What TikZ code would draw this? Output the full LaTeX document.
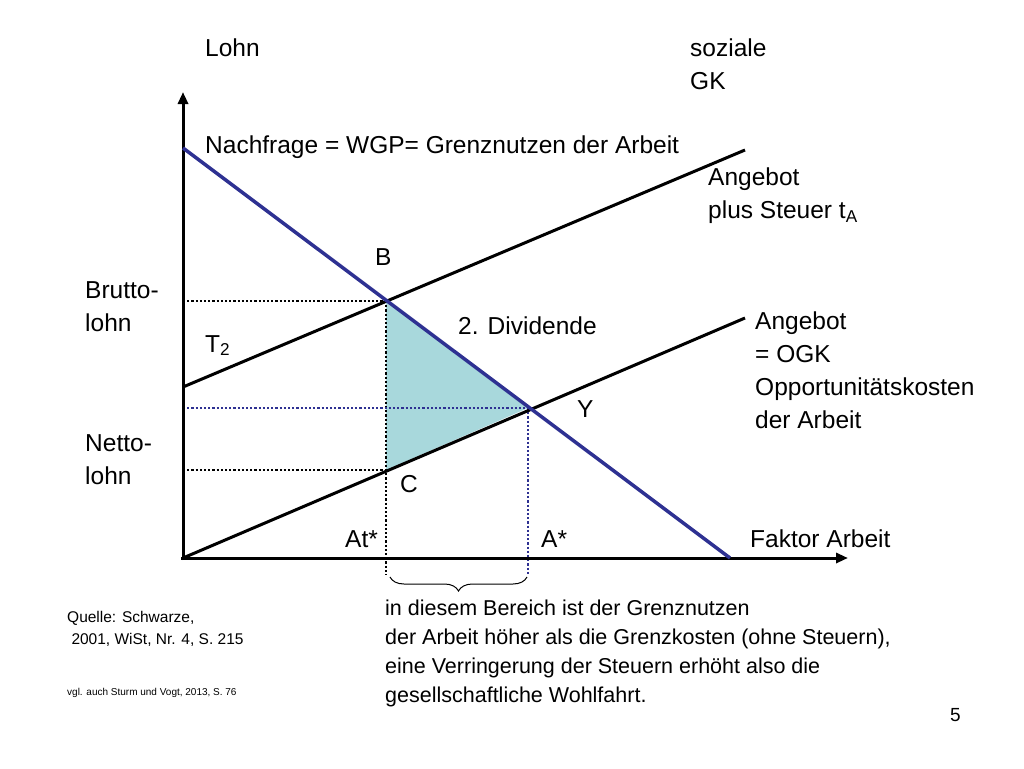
\documentclass[tikz,border=0pt]{standalone}
\usepackage{fontspec}
\setmainfont{Liberation Sans}
\usetikzlibrary{decorations.pathreplacing,arrows.meta}
\definecolor{dblue}{RGB}{46,49,146}
\definecolor{fillc}{RGB}{168,216,220}
\begin{document}
\begin{tikzpicture}[x=1pt,y=-1pt,
  lbl/.style={anchor=north west,inner sep=0pt,font=\fontsize{24.5}{33}\selectfont,align=left},
  dots/.style={line width=2.2pt,dotted},
  curve/.style={line width=3pt}]
\useasboundingbox (0,0) rectangle (1024,768);
\coordinate (O) at (183,558);
\coordinate (B) at (386,301);
\coordinate (Y) at (528,408);
\coordinate (C) at (386,470);
\fill[fillc] (B) -- (Y) -- (C) -- cycle;
\draw[dots] (183,301) -- (B);
\draw[dots] (B) -- (386,575);
\draw[dots] (183,470) -- (C);
\draw[dots,dblue] (183,408) -- (Y);
\draw[dots,dblue] (Y) -- (528,575);
\draw[curve,-{Triangle[length=12pt,width=10pt]}] (183,560) -- (183,92);
\draw[curve,-{Triangle[length=12pt,width=10pt]}] (181,558) -- (848,558);
\draw[curve] (183,387) -- (745,150);
\draw[curve] (O) -- (745,318);
\draw[line width=3.5pt,dblue] (183,148) -- (730,558);
\draw[decorate,decoration={brace,mirror,amplitude=14pt},line width=1pt] (390,577) -- (527,577);
\node[lbl] (lohn) at (205,39) {Lohn};
\node[lbl] (sgk) at (690,39) {soziale\\GK};
\node[lbl] (nf) at (205,136) {Nachfrage = WGP= Grenznutzen der Arbeit};
\node[lbl] (apS) at (708,168) {Angebot\\plus Steuer t\textsubscript{A}};
\node[lbl] (bl) at (375,248) {B};
\node[lbl] (br) at (85,281) {Brutto-\\lohn};
\node[lbl] (div) at (458,317) {2. Dividende};
\node[lbl] (t2) at (205,335) {T\textsubscript{2}};
\node[lbl] (aogk) at (755,312) {Angebot\\= OGK\\Opportunitätskosten\\der Arbeit};
\node[lbl] (yl) at (577,400) {Y};
\node[lbl] (nl) at (85,434) {Netto-\\lohn};
\node[lbl] (cl) at (400,475) {C};
\node[lbl] (at) at (345,530) {At*};
\node[lbl] (as) at (541,530) {A*};
\node[lbl] (fa) at (750,530) {Faktor Arbeit};
\node[anchor=north west,inner sep=0pt,font=\fontsize{15.5}{22}\selectfont,align=left] (q) at (67,611) {Quelle: Schwarze,\\\ 2001, WiSt, Nr. 4, S. 215};
\node[anchor=north west,inner sep=0pt,font=\fontsize{10}{12}\selectfont] (v) at (67,688) {vgl. auch Sturm und Vogt, 2013, S. 76};
\node[anchor=north west,inner sep=0pt,font=\fontsize{21.5}{29}\selectfont,align=left] (txt) at (385,600) {in diesem Bereich ist der Grenznutzen\\der Arbeit höher als die Grenzkosten (ohne Steuern),\\eine Verringerung der Steuern erhöht also die\\gesellschaftliche Wohlfahrt.};
\node[anchor=north west,inner sep=0pt,font=\fontsize{19}{22}\selectfont] (p) at (950,708) {5};
\end{tikzpicture}
\end{document}
